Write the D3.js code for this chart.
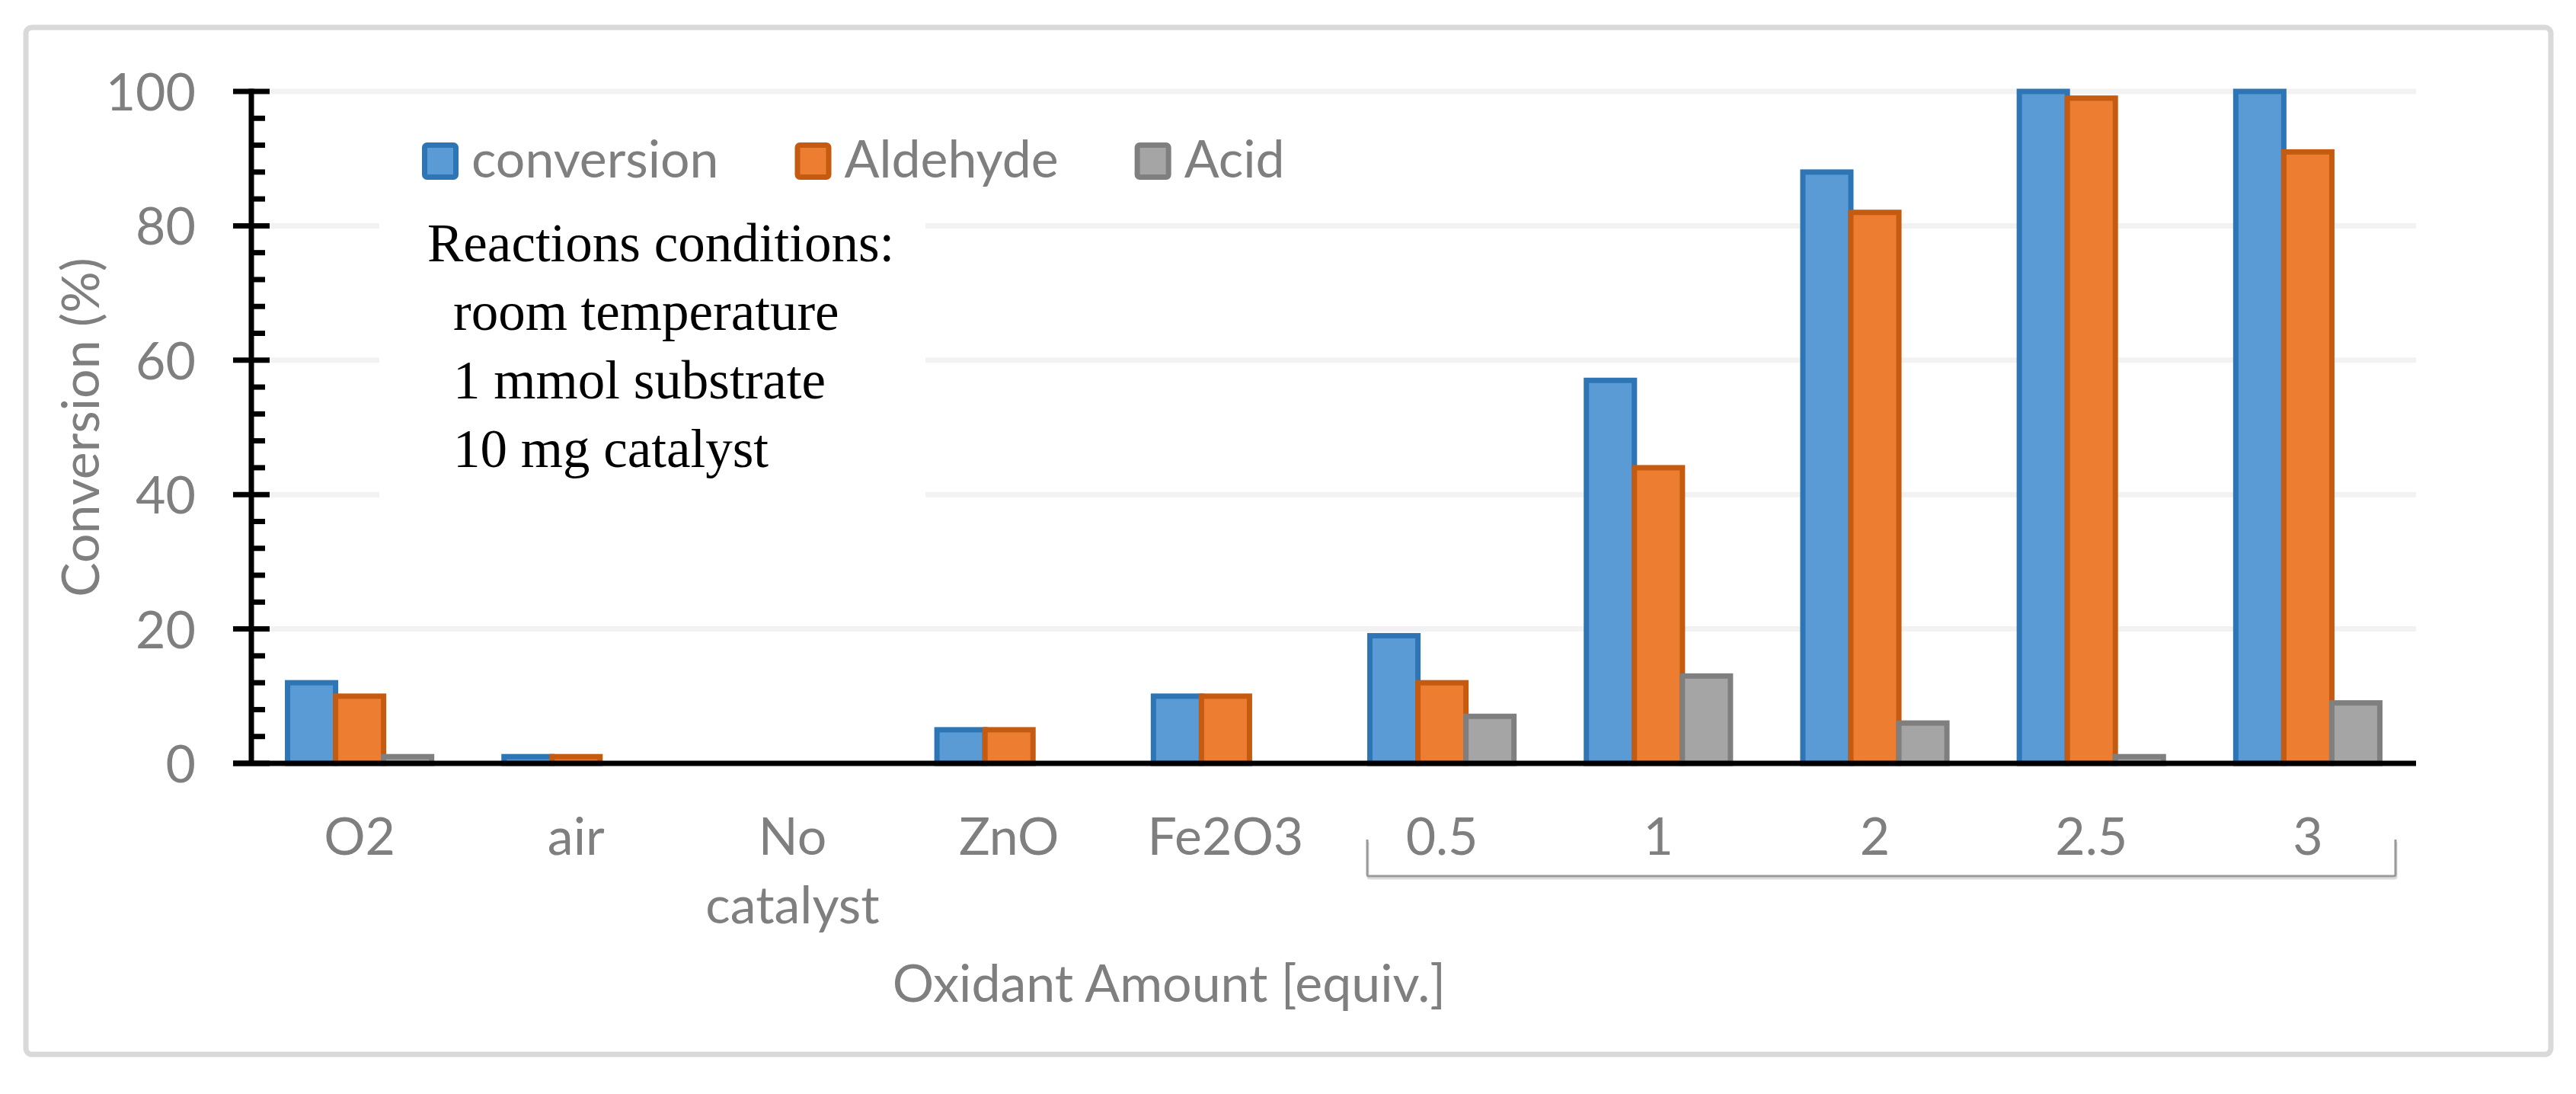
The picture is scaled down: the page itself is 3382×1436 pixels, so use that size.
<!DOCTYPE html>
<html>
<head>
<meta charset="utf-8">
<script src="https://cdn.jsdelivr.net/npm/d3@7"></script>
<style>
  body { margin: 0; padding: 0; background: #fff; }
  svg { display: block; }
</style>
</head>
<body>
<div id="main"></div>
<script>
// values
const categories = ['O2', 'air', 'No catalyst', 'ZnO', 'Fe2O3', '0.5', '1', '2', '2.5', '3'];
const seriesNames = ['conversion', 'Aldehyde', 'Acid'];
const conversion = [12, 1, 0, 5, 10, 19, 57, 88, 100, 100];
const aldehyde = [10, 1, 0, 5, 10, 12, 44, 82, 99, 91];
const acid = [1, 0, 0, 0, 0, 7, 13, 6, 1, 9];
const yTicks = [0, 20, 40, 60, 80, 100];
const noteLines = ['Reactions conditions:', 'room temperature', '1 mmol substrate', '10 mg catalyst'];

const W = 3382, H = 1436;
const FILLS = ['#5b9bd5', '#ed7d31', '#a5a5a5'];
const STROKES = ['#2e75b6', '#c55a11', '#7f7f7f'];
const GREY = '#7f7f7f';
const SANS = 'Lato, "Open Sans", sans-serif';
const SERIF = '"Liberation Serif", "DejaVu Serif", serif';

const plot = {left: 330, right: 3172, top: 120, bottom: 1002};

const svg = d3.select('#main').append('svg')
    .attr('width', W)
    .attr('height', H);

// chart frame
svg.append('rect')
    .attr('x', 34).attr('y', 36)
    .attr('width', 3315).attr('height', 1348)
    .attr('rx', 8)
    .attr('fill', '#fff')
    .attr('stroke', '#d9d9d9')
    .attr('stroke-width', 7);

const x0 = d3.scaleBand()
    .domain(categories)
    .range([plot.left, plot.right])
    .paddingInner(0.3345)
    .paddingOuter(0.3345 / 2);
const x1 = d3.scaleBand()
    .domain(seriesNames)
    .range([0, x0.bandwidth()]);
const y = d3.scaleLinear()
    .domain([0, 100])
    .range([plot.bottom, plot.top]);

// gridlines
svg.append('g').selectAll('line')
    .data(yTicks.filter((t) => t > 0))
    .enter().append('line')
    .attr('x1', 354).attr('x2', plot.right)
    .attr('y1', (d) => y(d)).attr('y2', (d) => y(d))
    .attr('stroke', '#f2f2f2')
    .attr('stroke-width', 7);

// white text box of the conditions note (hides the gridlines behind it)
svg.append('rect')
    .attr('x', 498).attr('y', 255)
    .attr('width', 717).attr('height', 410)
    .attr('fill', '#fff');

const note = svg.append('text')
    .attr('font-family', SERIF)
    .attr('font-size', 71)
    .attr('fill', '#000');
noteLines.forEach((line, i) => {
    note.append('tspan')
        .attr('x', i === 0 ? 561 : 595)
        .attr('y', 343 + i * 90)
        .text(line);
});

// legend, entries laid out one after the other
const legend = svg.append('g').attr('transform', 'translate(554, 187)');
let legendX = 0;
seriesNames.forEach((name, i) => {
    const g = legend.append('g').attr('transform', `translate(${legendX}, 0)`);
    g.append('rect')
        .attr('x', 3.5).attr('y', 3.5)
        .attr('width', 41).attr('height', 42)
        .attr('rx', 3)
        .attr('fill', FILLS[i])
        .attr('stroke', STROKES[i])
        .attr('stroke-width', 7);
    const label = g.append('text')
        .attr('x', 65).attr('y', 46)
        .attr('font-family', SANS)
        .attr('font-size', 68)
        .attr('fill', GREY)
        .text(name);
    legendX += 65 + label.node().getComputedTextLength() + 100;
});

// bars
const seriesData = [conversion, aldehyde, acid];
const rows = categories.map((c, i) => ({
    cat: c,
    values: seriesNames.map((s, k) => ({series: s, k, value: seriesData[k][i]}))
}));
const groups = svg.append('g').selectAll('g')
    .data(rows)
    .enter().append('g')
    .attr('transform', (d) => `translate(${x0(d.cat)}, 0)`);
groups.selectAll('rect')
    .data((d) => d.values.filter((v) => v.value > 0))
    .enter().append('rect')
    .attr('x', (d) => x1(d.series))
    .attr('y', (d) => y(d.value))
    .attr('width', x1.bandwidth())
    .attr('height', (d) => y(0) - y(d.value))
    .attr('fill', (d) => FILLS[d.k])
    .attr('stroke', (d) => STROKES[d.k])
    .attr('stroke-width', 7);

// y axis labels
const axisY = svg.append('g')
    .attr('transform', `translate(${plot.left}, 0)`)
    .call(d3.axisLeft(y).tickValues(yTicks).tickSize(0).tickPadding(73));
axisY.select('.domain').remove();
axisY.selectAll('text')
    .attr('font-family', SANS)
    .attr('font-size', 68)
    .attr('fill', GREY)
    .attr('dy', '0.36em');

// y axis line and ticks
svg.append('line')
    .attr('x1', plot.left).attr('x2', plot.left)
    .attr('y1', y(100) - 3.5).attr('y2', y(0))
    .attr('stroke', '#000').attr('stroke-width', 7);
svg.append('g').selectAll('line')
    .data(yTicks)
    .enter().append('line')
    .attr('x1', 306).attr('x2', 354)
    .attr('y1', (d) => y(d)).attr('y2', (d) => y(d))
    .attr('stroke', '#000').attr('stroke-width', 7);
svg.append('g').selectAll('line')
    .data(d3.range(0, 101, 4).filter((v) => v % 20 !== 0))
    .enter().append('line')
    .attr('x1', plot.left).attr('x2', 348)
    .attr('y1', (d) => y(d)).attr('y2', (d) => y(d))
    .attr('stroke', '#000').attr('stroke-width', 7);

// x axis
const axisX = svg.append('g')
    .attr('transform', `translate(0, ${y(0)})`)
    .call(d3.axisBottom(x0).tickSize(0));
axisX.select('.domain').remove();
axisX.selectAll('text')
    .attr('font-family', SANS)
    .attr('font-size', 68)
    .attr('fill', GREY)
    .attr('y', 120)
    .attr('dy', 0)
    .each(function (d) {
        const words = d.split(' ');
        if (words.length > 1) {
            const t = d3.select(this).text(null);
            words.forEach((w, i) => {
                t.append('tspan').attr('x', 0).attr('dy', i === 0 ? 0 : 90).text(w);
            });
        }
    });
svg.append('line')
    .attr('x1', 306).attr('x2', plot.right)
    .attr('y1', y(0)).attr('y2', y(0))
    .attr('stroke', '#000').attr('stroke-width', 7);

// bracket under the oxidant amounts
const bLeft = x0('0.5') - x0.step() * x0.paddingInner() / 2 + x0.step() * 0.155;
const bRight = x0('3') - x0.step() * x0.paddingInner() / 2 + x0.step() * 0.905;
const bracket = `M${bLeft},1102 L${bLeft},1148 Q${bLeft},1150 ${bLeft + 3},1150 L${bRight - 3},1150 Q${bRight},1150 ${bRight},1148 L${bRight},1102`;
svg.append('path')
    .attr('d', bracket)
    .attr('transform', 'translate(1, 3)')
    .attr('fill', 'none')
    .attr('stroke', '#dcdcdc')
    .attr('stroke-width', 3);
svg.append('path')
    .attr('d', bracket)
    .attr('fill', 'none')
    .attr('stroke', '#9a9a9a')
    .attr('stroke-width', 3);

// axis titles
svg.append('text')
    .attr('x', 1535).attr('y', 1315)
    .attr('text-anchor', 'middle')
    .attr('font-family', SANS)
    .attr('font-size', 68)
    .attr('fill', GREY)
    .text('Oxidant Amount [equiv.]');
svg.append('text')
    .attr('transform', `translate(130, ${(plot.top + plot.bottom) / 2}) rotate(-90)`)
    .attr('text-anchor', 'middle')
    .attr('font-family', SANS)
    .attr('font-size', 68)
    .attr('fill', GREY)
    .text('Conversion (%)');
</script>
</body>
</html>
